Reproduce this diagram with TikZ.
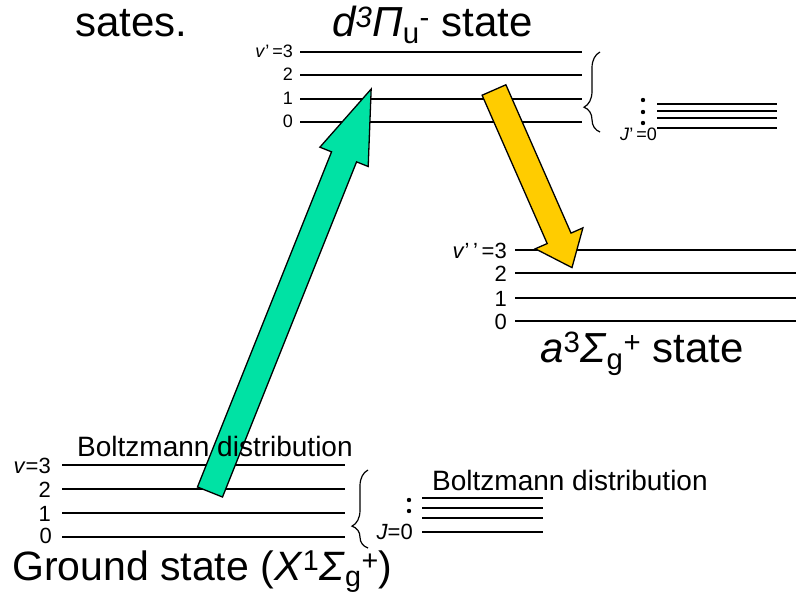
\documentclass[tikz,border=0pt]{standalone}
\usepackage{fontspec}
\setmainfont{Liberation Sans}
\usetikzlibrary{decorations.pathreplacing}
\definecolor{pumpgreen}{RGB}{0,226,164}
\definecolor{emitgold}{RGB}{255,204,0}
\tikzset{
  bigtxt/.style={font=\fontsize{42}{48}\selectfont,inner sep=0pt,anchor=base west},
  notetxt/.style={font=\fontsize{28}{32}\selectfont,inner sep=0pt,anchor=base west},
  numtxt/.style={font=\fontsize{22}{24}\selectfont,inner sep=0pt,anchor=base east},
  smallnum/.style={font=\fontsize{18}{20}\selectfont,inner sep=0pt,anchor=base east},
  level/.style={line width=1.4pt},
  rotbrace/.style={decorate,decoration={brace,amplitude=16pt,aspect=#1},line width=1.2pt},
  blockarr/.style={draw=black,line width=1.3pt,line join=miter}
}

\begin{document}
\begin{tikzpicture}[x=1pt,y=-1pt]
  \useasboundingbox (0,0) rectangle (796,594);

  % d state levels
  \draw[level] (300,52) -- (582,52);
  \draw[level] (300,75) -- (582,75);
  \draw[level] (300,99) -- (582,99);
  \draw[level] (300,122) -- (582,122);
  \node[smallnum] (dv3) at (293,58) {\textit{v}’\,=3};
  \node[smallnum] (dv2) at (293,81) {2};
  \node[smallnum] (dv1) at (293,105) {1};
  \node[smallnum] (dv0) at (293,128) {0};

  % d state rotational levels
  \draw[rotbrace=0.31] (600,132) -- (600,52);
  \fill (643,100) circle (2.2);
  \fill (643,112) circle (2.2);
  \fill (643,123) circle (2.2);
  \node[smallnum] (dj0) at (657,140) {\textit{J}’\,=0};
  \draw[level] (657,104) -- (777,104);
  \draw[level] (657,111) -- (777,111);
  \draw[level] (657,118) -- (777,118);
  \draw[level] (657,128) -- (777,128);

  % a state levels
  \draw[level] (515,250) -- (796,250);
  \draw[level] (515,273) -- (796,273);
  \draw[level] (515,298) -- (796,298);
  \draw[level] (515,321) -- (796,321);
  \node[numtxt] (av3) at (507,258) {\textit{v}’\,’\,=3};
  \node[numtxt] (av2) at (507,281) {2};
  \node[numtxt] (av1) at (507,306) {1};
  \node[numtxt] (av0) at (507,329) {0};

  % ground state levels
  \draw[level] (62,465) -- (345,465);
  \draw[level] (62,489) -- (345,489);
  \draw[level] (62,513) -- (345,513);
  \draw[level] (62,537) -- (345,537);
  \node[numtxt] (xv3) at (51,473) {\textit{v}=3};
  \node[numtxt] (xv2) at (51,497) {2};
  \node[numtxt] (xv1) at (51,521) {1};
  \node[numtxt] (xv0) at (52,543) {0};

  % ground state rotational levels
  \draw[rotbrace=0.28] (368,548) -- (368,470);
  \fill (409,500) circle (2.2);
  \fill (409,511) circle (2.2);
  \node[numtxt] (xj0) at (413,539) {\textit{J}=0};
  \draw[level] (422,498) -- (543,498);
  \draw[level] (422,508) -- (543,508);
  \draw[level] (422,518) -- (543,518);
  \draw[level] (422,532) -- (543,532);

  % excitation arrow
  \begin{scope}[shift={(210,492)},rotate=68.2]
    \draw[blockarr,fill=pumpgreen] (0,-13.5) -- (361,-13.5) -- (361,-26) -- (434,0)
      -- (361,26) -- (361,13.5) -- (0,13.5) -- cycle;
  \end{scope}

  % emission arrow
  \begin{scope}[shift={(494,90)},rotate=-66.3]
    \draw[blockarr,fill=emitgold] (0,-13) -- (162,-13) -- (162,-26) -- (194,0)
      -- (162,26) -- (162,13) -- (0,13) -- cycle;
  \end{scope}

  % titles
  \node[bigtxt] (sates) at (75,37) {sates.};
  \node[bigtxt] (dstate) at (332,37)
    {\textit{d\textsuperscript{3}Π}\textsubscript{u}\textsuperscript{-} state};
  \node[bigtxt] (astate) at (540,362)
    {\textit{a}\textsuperscript{3}\textit{Σ}\textsubscript{g}\textsuperscript{+} state};
  \node[bigtxt,font=\fontsize{41}{46}\selectfont] (xstate) at (12,580)
    {Ground state (\textit{X}\textsuperscript{1}\textit{Σ}\textsubscript{g}\textsuperscript{+})};
  \node[notetxt] (vibdist) at (77,456) {Boltzmann distribution};
  \node[notetxt] (rotdist) at (432,490) {Boltzmann distribution};

\end{tikzpicture}
\end{document}
